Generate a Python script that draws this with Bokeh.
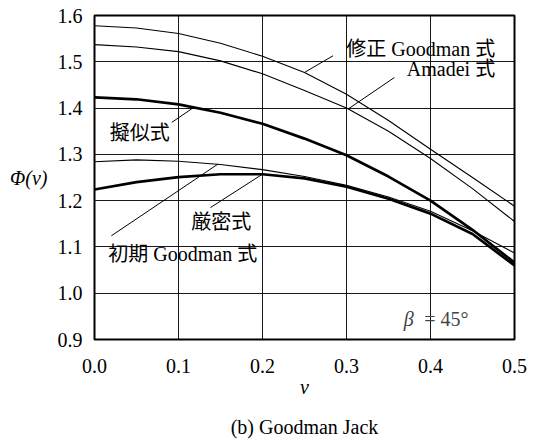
from bokeh.plotting import figure
from bokeh.models import Range1d, FixedTicker, NumeralTickFormatter, Label, LinearAxis
from bokeh.embed import file_html
from bokeh.resources import INLINE

# ---- data ----
nu = [0.0, 0.05, 0.10, 0.15, 0.20, 0.25, 0.30, 0.35, 0.40, 0.45, 0.50]
modified_goodman = [1.578, 1.573, 1.561, 1.540, 1.512, 1.477, 1.430, 1.373, 1.311, 1.250, 1.188]
amadei = [1.537, 1.532, 1.522, 1.502, 1.474, 1.438, 1.400, 1.350, 1.291, 1.226, 1.155]
pseudo = [1.423, 1.419, 1.408, 1.390, 1.366, 1.334, 1.298, 1.252, 1.200, 1.137, 1.066]
exact = [1.224, 1.240, 1.251, 1.257, 1.257, 1.248, 1.230, 1.204, 1.172, 1.128, 1.060]
initial_goodman = [1.284, 1.288, 1.285, 1.278, 1.267, 1.252, 1.233, 1.208, 1.177, 1.135, 1.087]

x_ticks = [0.0, 0.1, 0.2, 0.3, 0.4, 0.5]
y_ticks = [0.9, 1.0, 1.1, 1.2, 1.3, 1.4, 1.5, 1.6]

# annotation labels: text, x, y, align ; leader from (x0,y0) to (x1,y1)
ann_text = ["修正 Goodman 式", "Amadei 式", "擬似式", "初期 Goodman 式", "厳密式"]
ann_x = [0.477, 0.477, 0.054, 0.105, 0.151]
ann_y = [1.527, 1.485, 1.347, 1.085, 1.153]
ann_align = ["right", "right", "center", "center", "center"]
lead_x0 = [0.284, 0.357, 0.092, 0.020, 0.138]
lead_y0 = [1.513, 1.466, 1.369, 1.124, 1.185]
lead_x1 = [0.250, 0.302, 0.117, 0.147, 0.199]
lead_y1 = [1.477, 1.398, 1.400, 1.279, 1.256]

SERIF = "Liberation Serif"
MIXED = "'Liberation Serif', 'Noto Sans CJK JP'"
FS = "20px"

p = figure(width=538, height=442, output_backend="svg", toolbar_location=None,
           x_range=Range1d(0, 0.5), y_range=Range1d(0.9, 1.6),
           min_border_left=94, min_border_right=24, min_border_top=15, min_border_bottom=103)
p.background_fill_color = "white"
p.border_fill_color = "white"
p.outline_line_color = "black"
p.outline_line_width = 2

for ax in (p.xaxis, p.yaxis):
    ax.major_tick_in = 0
    ax.major_tick_out = 0
    ax.minor_tick_line_color = None
    ax.axis_line_color = None
    ax.major_label_text_font = SERIF
    ax.major_label_text_font_size = FS
    ax.major_label_text_line_height = 1.0
    ax.major_label_text_color = "black"
    ax.axis_label_text_font = SERIF
    ax.axis_label_text_font_size = FS
    ax.axis_label_text_line_height = 1.0
    ax.axis_label_text_font_style = "italic"
    ax.axis_label_text_color = "black"
    ax.formatter = NumeralTickFormatter(format="0.0")

p.xaxis.ticker = FixedTicker(ticks=x_ticks)
p.yaxis.ticker = FixedTicker(ticks=y_ticks)
p.xaxis.axis_label = "ν"
p.yaxis.axis_label = "Φ(ν)"
p.yaxis.axis_label_orientation = "horizontal"
p.yaxis.axis_label_text_baseline = "top"
p.xaxis.major_label_standoff = 19
p.xaxis.axis_label_standoff = 0
p.yaxis.major_label_standoff = 12
p.yaxis.axis_label_standoff = 7

for g in (p.xgrid, p.ygrid):
    g.grid_line_color = "black"
    g.grid_line_width = 1
    g.grid_line_alpha = 0.9
p.xgrid.ticker = FixedTicker(ticks=x_ticks)
p.ygrid.ticker = FixedTicker(ticks=y_ticks)

# curves
p.line(nu, modified_goodman, line_color="black", line_width=1.1)
p.line(nu, amadei, line_color="black", line_width=1.1)
p.line(nu, initial_goodman, line_color="black", line_width=1.1)
p.line(nu, pseudo, line_color="black", line_width=2.7)
p.line(nu, exact, line_color="black", line_width=2.7)

# leaders
p.segment(x0=lead_x0, y0=lead_y0, x1=lead_x1, y1=lead_y1, line_color="black", line_width=1)

for t, x, y, a in zip(ann_text, ann_x, ann_y, ann_align):
    p.add_layout(Label(x=x, y=y, text=t, text_align=a, text_baseline="middle",
                       text_font=MIXED, text_font_size=FS, text_line_height=1.0,
                       text_color="black"))

p.add_layout(Label(x=0.374, y=0.944, text="β", text_align="center", text_baseline="middle",
                   text_font=SERIF, text_font_style="italic", text_font_size=FS,
                   text_line_height=1.0))
p.add_layout(Label(x=0.419, y=0.944, text="= 45°", text_align="center", text_baseline="middle",
                   text_font=SERIF, text_font_size=FS, text_line_height=1.0))

# caption: an extra (tickless) axis below the ν axis
cap_axis = LinearAxis(ticker=FixedTicker(ticks=[]), axis_label="(b) Goodman Jack",
                      axis_line_color=None, major_tick_line_color=None,
                      minor_tick_line_color=None, major_label_text_font_size="0px",
                      major_tick_in=0, major_tick_out=0, major_label_standoff=0,
                      axis_label_standoff=15, axis_label_text_font=SERIF,
                      axis_label_text_font_size=FS, axis_label_text_font_style="normal",
                      axis_label_text_line_height=1.0, axis_label_text_color="black")
p.add_layout(cap_axis, "below")

open("out.html", "w").write(file_html(p, INLINE))
